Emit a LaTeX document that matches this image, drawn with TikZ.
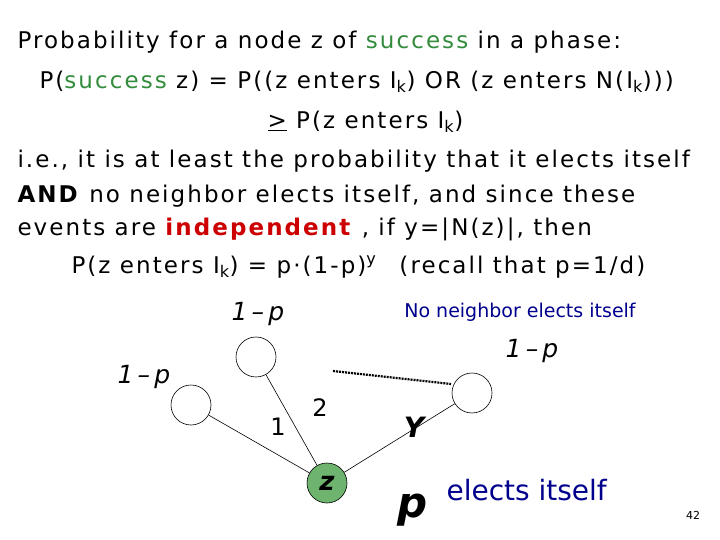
\documentclass[tikz,border=0pt]{standalone}
\usepackage{fontspec}
\setmainfont{DejaVu Sans}
\newfontfamily\txtfont[LetterSpace=9]{DejaVu Sans}
\begin{document}
\begin{tikzpicture}[x=1pt,y=-1pt,
  nd/.style={circle,draw,line width=0.6pt,minimum size=40pt,inner sep=0pt},
  ln/.style={anchor=west,font=\txtfont\fontsize{23}{26}\selectfont},
  lbl/.style={font=\fontsize{25}{26}\selectfont\itshape},
  blu/.style={text=blue!55!black}]
\useasboundingbox (0,0) rectangle (720,540);
\definecolor{grn}{RGB}{50,140,60}
\definecolor{zg}{RGB}{110,180,110}
\node[ln] (t1) at (14,42) {Probability for a node z of \textcolor{grn}{success} in a phase:};
\node[ln] (t2) at (36,82) {P(\textcolor{grn}{success} z) = P((z enters I\textsubscript{k}) OR (z enters N(I\textsubscript{k})))};
\node[ln] (t3) at (264,122) {\underline{>} P(z enters I\textsubscript{k})};
\node[ln] (t4) at (14,161) {i.e., it is at least the probability that it elects itself};
\node[ln] (t5) at (14,196) {\textbf{AND} no neighbor elects itself, and since these};
\node[ln] (t6) at (14,229) {events are \textcolor{red!80!black}{\textbf{independent}} , if y=|N(z)|, then};
\node[ln] (t7) at (68,267) {P(z enters I\textsubscript{k}) = p·(1-p)\textsuperscript{y}\quad (recall that p=1/d)};
\node[nd] (a) at (191,405) {};
\node[nd] (b) at (256,357) {};
\node[nd] (c) at (472,393) {};
\node[nd,fill=zg] (z) at (327,483) {\bfseries\itshape\fontsize{26}{26}\selectfont z};
\draw[line width=0.6pt] (a) -- (z) (b) -- (z) (c) -- (z);
\node[lbl] (la) at (144,377) {1\,–\,p};
\node[lbl] (lb) at (258,314) {1\,–\,p};
\node[lbl] (lc) at (532,351) {1\,–\,p};
\node[font=\fontsize{24}{26}\selectfont] (n1) at (278,427) {1};
\node[font=\fontsize{24}{26}\selectfont] (n2) at (320,408) {2};
\node[font=\fontsize{28}{30}\selectfont\bfseries\itshape] (ny) at (414,427) {Y};
\coordinate (d1) at (333,371);
\coordinate (d2) at (451,384);
\draw[line width=2.2pt,dash pattern=on 2pt off 1pt] (d1) -- (d2);
\node[blu,font=\fontsize{19}{20}\selectfont] (no) at (520,312) {No neighbor elects itself};
\node[blu,font=\fontsize{28}{30}\selectfont,anchor=west] (el) at (443,490) {elects itself};
\node[font=\fontsize{42}{42}\selectfont\bfseries\itshape] (p) at (413,510) {p};
\node[font=\fontsize{11}{12}\selectfont] (pg) at (693,515) {42};
\end{tikzpicture}
\end{document}
